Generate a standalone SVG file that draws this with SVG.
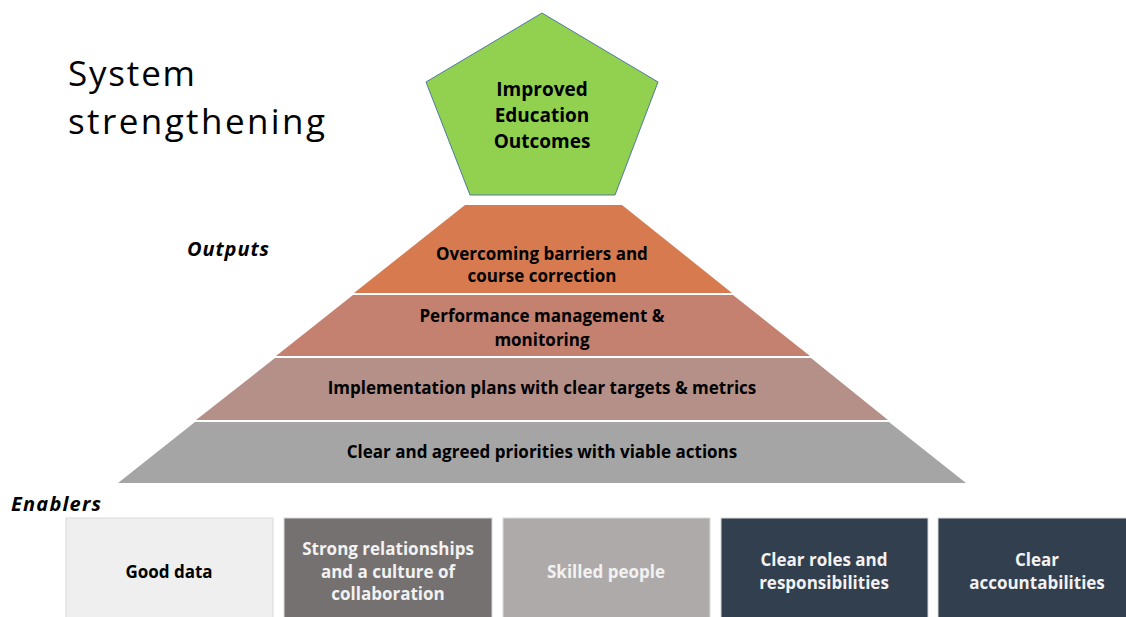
<svg xmlns="http://www.w3.org/2000/svg" width="1126" height="617" viewBox="0 0 1126 617">
  <style>
    .title { font-family: "Open Sans", "Liberation Sans", sans-serif; font-size: 35px; fill: #000; }
    .lbl { font-family: "Open Sans", "Liberation Sans", sans-serif; font-weight: bold; font-size: 17px; fill: #000; text-anchor: middle; }
    .big { font-size: 19px; }
    .hdr { font-family: "Open Sans", "Liberation Sans", sans-serif; font-weight: bold; font-style: italic; font-size: 20px; fill: #000; }
    .light { fill: #F2F2F2; }
    .band { stroke: none; }
    .box { stroke: #D9D9D9; stroke-width: 1; }
  </style>
  <rect width="1126" height="617" fill="#FFFFFF"/>

  <!-- heading -->
  <text class="title" x="68" y="86" textLength="127">System</text>
  <text class="title" x="68" y="134" textLength="257">strengthening</text>
  <text class="hdr" x="187" y="256" textLength="82">Outputs</text>
  <text class="hdr" x="11" y="511" textLength="90">Enablers</text>

  <!-- goal at the apex -->
  <g id="node-outcomes">
    <polygon points="542,13 658,82 615,195 470,195 426,82" fill="#92D050" stroke="#4F7AA0" stroke-width="1"/>
    <text class="lbl big" x="542" y="96">Improved</text>
    <text class="lbl big" x="542" y="122">Education</text>
    <text class="lbl big" x="542" y="148">Outcomes</text>
  </g>

  <!-- pyramid bands, top to bottom -->
  <g id="node-barriers">
    <polygon class="band" points="465,205 622,205 732,293 354,293" fill="#D77A50"/>
    <text class="lbl" x="542" y="260">Overcoming barriers and</text>
    <text class="lbl" x="542" y="282">course correction</text>
  </g>
  <g id="node-performance">
    <polygon class="band" points="353,295 733,295 810,356 276,356" fill="#C48170"/>
    <text class="lbl" x="542" y="322">Performance management &amp;</text>
    <text class="lbl" x="542" y="346">monitoring</text>
  </g>
  <g id="node-implementation">
    <polygon class="band" points="275,358 811,358 888,420 196,420" fill="#B59089"/>
    <text class="lbl" x="542" y="394">Implementation plans with clear targets &amp; metrics</text>
  </g>
  <g id="node-priorities">
    <polygon class="band" points="195,422 889,422 966,483 118,483" fill="#A5A5A5"/>
    <text class="lbl" x="542" y="458">Clear and agreed priorities with viable actions</text>
  </g>

  <!-- enablers row -->
  <g id="node-data">
    <rect class="box" x="66" y="518" width="207" height="100" fill="#EFEFEF"/>
    <text class="lbl" x="169" y="578">Good data</text>
  </g>
  <g id="node-relationships">
    <rect class="box" x="284" y="518" width="208" height="100" fill="#767171"/>
    <text class="lbl light" x="388" y="555">Strong relationships</text>
    <text class="lbl light" x="388" y="578">and a culture of</text>
    <text class="lbl light" x="388" y="600">collaboration</text>
  </g>
  <g id="node-people">
    <rect class="box" x="503" y="518" width="207" height="100" fill="#AEAAAA"/>
    <text class="lbl light" x="606" y="578">Skilled people</text>
  </g>
  <g id="node-roles">
    <rect class="box" x="721" y="518" width="207" height="100" fill="#323F4F"/>
    <text class="lbl light" x="824" y="566">Clear roles and</text>
    <text class="lbl light" x="824" y="589">responsibilities</text>
  </g>
  <g id="node-accountabilities">
    <rect class="box" x="938" y="518" width="200" height="100" fill="#323F4F"/>
    <text class="lbl light" x="1037" y="566">Clear</text>
    <text class="lbl light" x="1037" y="589">accountabilities</text>
  </g>

  <g id="connectors"/>
</svg>
